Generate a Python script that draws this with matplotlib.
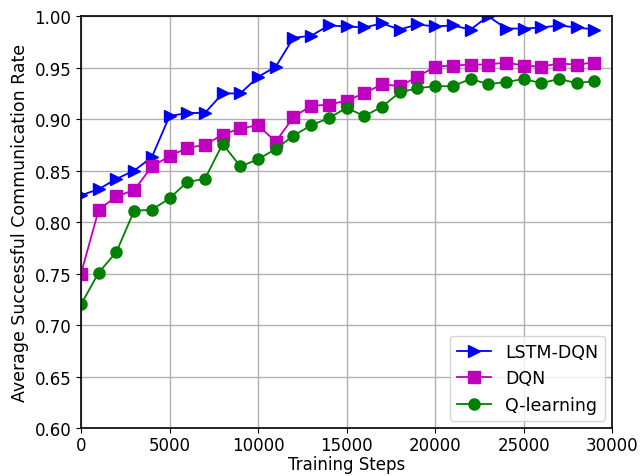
import numpy as np
import matplotlib
matplotlib.use('Agg')
import matplotlib.pyplot as plt

steps = np.arange(0, 30000, 1000)

lstm_dqn = [0.826, 0.832, 0.842, 0.850, 0.863, 0.903, 0.906, 0.906, 0.925, 0.925,
            0.941, 0.951, 0.979, 0.981, 0.991, 0.990, 0.989, 0.993, 0.987, 0.992,
            0.990, 0.991, 0.987, 1.000, 0.988, 0.988, 0.989, 0.991, 0.989, 0.987]
dqn = [0.750, 0.812, 0.825, 0.831, 0.854, 0.864, 0.872, 0.875, 0.885, 0.891,
       0.894, 0.878, 0.902, 0.913, 0.914, 0.918, 0.925, 0.934, 0.932, 0.941,
       0.951, 0.952, 0.953, 0.953, 0.955, 0.952, 0.951, 0.954, 0.953, 0.955]
q_learning = [0.720, 0.751, 0.771, 0.811, 0.812, 0.823, 0.839, 0.842, 0.876, 0.854,
              0.861, 0.871, 0.884, 0.894, 0.901, 0.911, 0.903, 0.912, 0.926, 0.930,
              0.932, 0.932, 0.939, 0.934, 0.936, 0.939, 0.935, 0.939, 0.935, 0.937]

fig = plt.figure(figsize=(6.43, 4.77), dpi=100)
ax = fig.add_axes([0.126, 0.1006, 0.826, 0.8634])

ax.plot(steps, lstm_dqn, 'b>-', markersize=8, linewidth=1.3, label='LSTM-DQN')
ax.plot(steps, dqn, 'ms-', markersize=8, linewidth=1.3, label='DQN')
ax.plot(steps, q_learning, 'go-', markersize=8, linewidth=1.3, label='Q-learning')

ax.set_xlim(0, 30000)
ax.set_ylim(0.60, 1.00)
ax.set_xticks(np.arange(0, 30001, 5000))
ax.set_yticks(np.arange(0.60, 1.001, 0.05))
ax.set_yticklabels(['%.2f' % v for v in np.arange(0.60, 1.001, 0.05)])
ax.tick_params(labelsize=12)
ax.tick_params(axis='x', pad=2)
ax.grid(True, color='#b0b0b0', linewidth=1.0)
for s in ax.spines.values():
    s.set_linewidth(1.2)

ax.set_xlabel('Training Steps', fontsize=12, labelpad=1)
ax.set_ylabel('Average Successful Communication Rate', fontsize=12.5)
ax.legend(loc='lower right', fontsize=12.5, borderaxespad=0.4)

fig.savefig('out.png', dpi=100)
